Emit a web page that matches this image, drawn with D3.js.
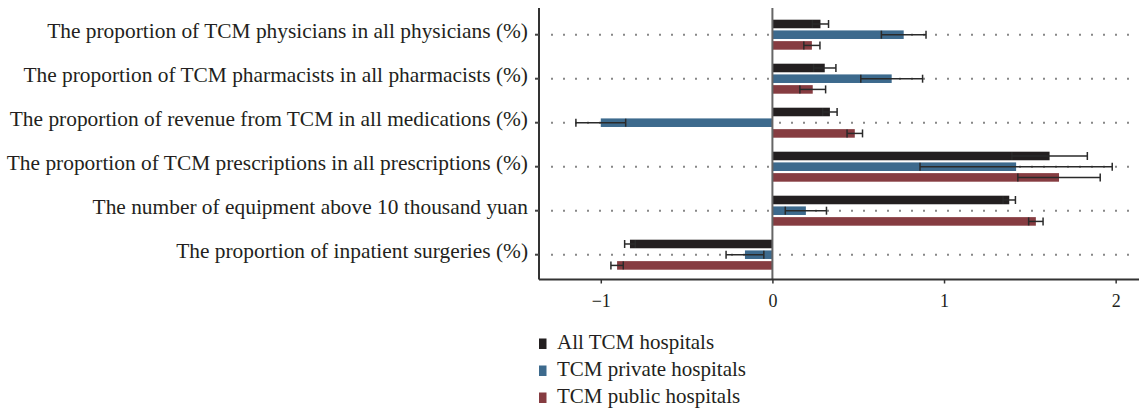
<!DOCTYPE html>
<meta charset="utf-8">
<style>
body { margin: 0; background: #fff; }
.label { font-family: "Liberation Serif", "DejaVu Serif", serif; fill: #231f20; }
.dot { stroke: #888; stroke-width: 2px; stroke-dasharray: 2 10; }
.err { stroke: #2a2a2a; stroke-width: 1.5px; }
</style>
<body>
<script src="https://cdn.jsdelivr.net/npm/d3@7"></script>
<script>
const width = 1139;
const height = 408;

const categories = [
    "The proportion of TCM physicians in all physicians (%)",
    "The proportion of TCM pharmacists in all pharmacists (%)",
    "The proportion of revenue from TCM in all medications (%)",
    "The proportion of TCM prescriptions in all prescriptions (%)",
    "The number of equipment above 10 thousand yuan",
    "The proportion of inpatient surgeries (%)"
];
const seriesNames = ["All TCM hospitals", "TCM private hospitals", "TCM public hospitals"];
const colors = ["#231f20", "#3d6a8d", "#863c41"];

// mean values per series
const allValues = [0.28, 0.305, 0.335, 1.615, 1.38, -0.83];
const privateValues = [0.765, 0.695, -1.0, 1.42, 0.195, -0.16];
const publicValues = [0.23, 0.235, 0.48, 1.67, 1.535, -0.905];
// half width of error bars
const allErr = [0.047, 0.065, 0.042, 0.22, 0.036, 0.031];
const privateErr = [0.13, 0.18, 0.145, 0.56, 0.12, 0.11];
const publicErr = [0.047, 0.075, 0.045, 0.24, 0.042, 0.036];
const xTicks = [-1, 0, 1, 2];

const series = [
    { name: seriesNames[0], values: allValues, err: allErr, color: colors[0] },
    { name: seriesNames[1], values: privateValues, err: privateErr, color: colors[1] },
    { name: seriesNames[2], values: publicValues, err: publicErr, color: colors[2] }
];

const plotLeft = 539, plotRight = 1139, plotTop = 12.7, plotBottom = 279.5;

const x = d3.scaleLinear().domain([-1.36, 2.136]).range([plotLeft, plotRight]);
const y = d3.scaleBand().domain(categories).range([plotTop, plotTop + 44 * 6]);
const inner = d3.scaleBand().domain(seriesNames).range([-15, 15]).paddingInner(0.2);

const svg = d3.select("body").append("svg")
    .attr("width", width)
    .attr("height", height);

// dotted guide lines
svg.append("g").selectAll("line")
    .data(categories).enter()
    .append("line")
    .attr("class", "dot")
    .attr("x1", plotLeft + 12)
    .attr("x2", plotRight)
    .attr("y1", function(d) { return y(d) + y.bandwidth() / 2; })
    .attr("y2", function(d) { return y(d) + y.bandwidth() / 2; });

const groups = svg.append("g").selectAll("g")
    .data(series).enter()
    .append("g");

groups.selectAll("rect")
    .data(function(s) { return s.values.map(function(v, i) { return { s: s, v: v, c: categories[i] }; }); })
    .enter()
    .append("rect")
    .attr("x", function(d) { return x(Math.min(0, d.v)); })
    .attr("width", function(d) { return Math.abs(x(d.v) - x(0)); })
    .attr("y", function(d) { return y(d.c) + y.bandwidth() / 2 + inner(d.s.name); })
    .attr("height", inner.bandwidth())
    .attr("fill", function(d) { return d.s.color; });

// error bars
const errs = groups.selectAll("g.e")
    .data(function(s) { return s.values.map(function(v, i) { return { s: s, v: v, e: s.err[i], c: categories[i] }; }); })
    .enter()
    .append("g")
    .attr("class", "e")
    .attr("transform", function(d) {
        return "translate(0," + (y(d.c) + y.bandwidth() / 2 + inner(d.s.name) + inner.bandwidth() / 2) + ")";
    });

errs.append("line")
    .attr("class", "err")
    .attr("x1", function(d) { return x(d.v - d.e); })
    .attr("x2", function(d) { return x(d.v + d.e); });

errs.selectAll("line.cap")
    .data(function(d) { return [d.v - d.e, d.v + d.e]; })
    .enter()
    .append("line")
    .attr("class", "err cap")
    .attr("x1", function(d) { return x(d); })
    .attr("x2", function(d) { return x(d); })
    .attr("y1", -4)
    .attr("y2", 4);

// zero line
svg.append("line")
    .attr("x1", x(0)).attr("x2", x(0))
    .attr("y1", 8).attr("y2", plotBottom)
    .attr("stroke", "#666")
    .attr("stroke-width", 2);

// axes
const yAxis = svg.append("g")
    .attr("transform", "translate(" + plotLeft + ",0)")
    .call(d3.axisLeft(y).tickSize(4).tickPadding(7));
yAxis.select(".domain").attr("d", "M0,8V" + plotBottom).attr("stroke", "#333").attr("stroke-width", 2);
yAxis.selectAll(".tick line").attr("stroke", "#444").attr("stroke-width", 2);
yAxis.selectAll(".tick text")
    .attr("class", "label")
    .attr("dy", "0.17em")
    .style("font-size", "21.4px");

const xAxis = svg.append("g")
    .attr("transform", "translate(0," + plotBottom + ")")
    .call(d3.axisBottom(x).tickValues(xTicks).tickSize(4).tickPadding(11).tickFormat(d3.format("d")));
xAxis.select(".domain").attr("d", "M" + plotLeft + ",0H" + plotRight).attr("stroke", "#333").attr("stroke-width", 2);
xAxis.selectAll(".tick line").attr("stroke", "#333").attr("stroke-width", 1.5);
xAxis.selectAll(".tick text")
    .attr("class", "label")
    .style("font-size", "18px");

// legend
const legend = svg.append("g").selectAll("g")
    .data(series).enter()
    .append("g")
    .attr("transform", function(d, i) { return "translate(539," + (349 + i * 27) + ")"; });

legend.append("rect")
    .attr("x", 0).attr("y", -10.5)
    .attr("width", 7.5).attr("height", 10.5)
    .attr("fill", function(d) { return d.color; });

legend.append("text")
    .attr("class", "label")
    .attr("x", 18)
    .style("font-size", "21px")
    .text(function(d) { return d.name; });
</script>
</body>
